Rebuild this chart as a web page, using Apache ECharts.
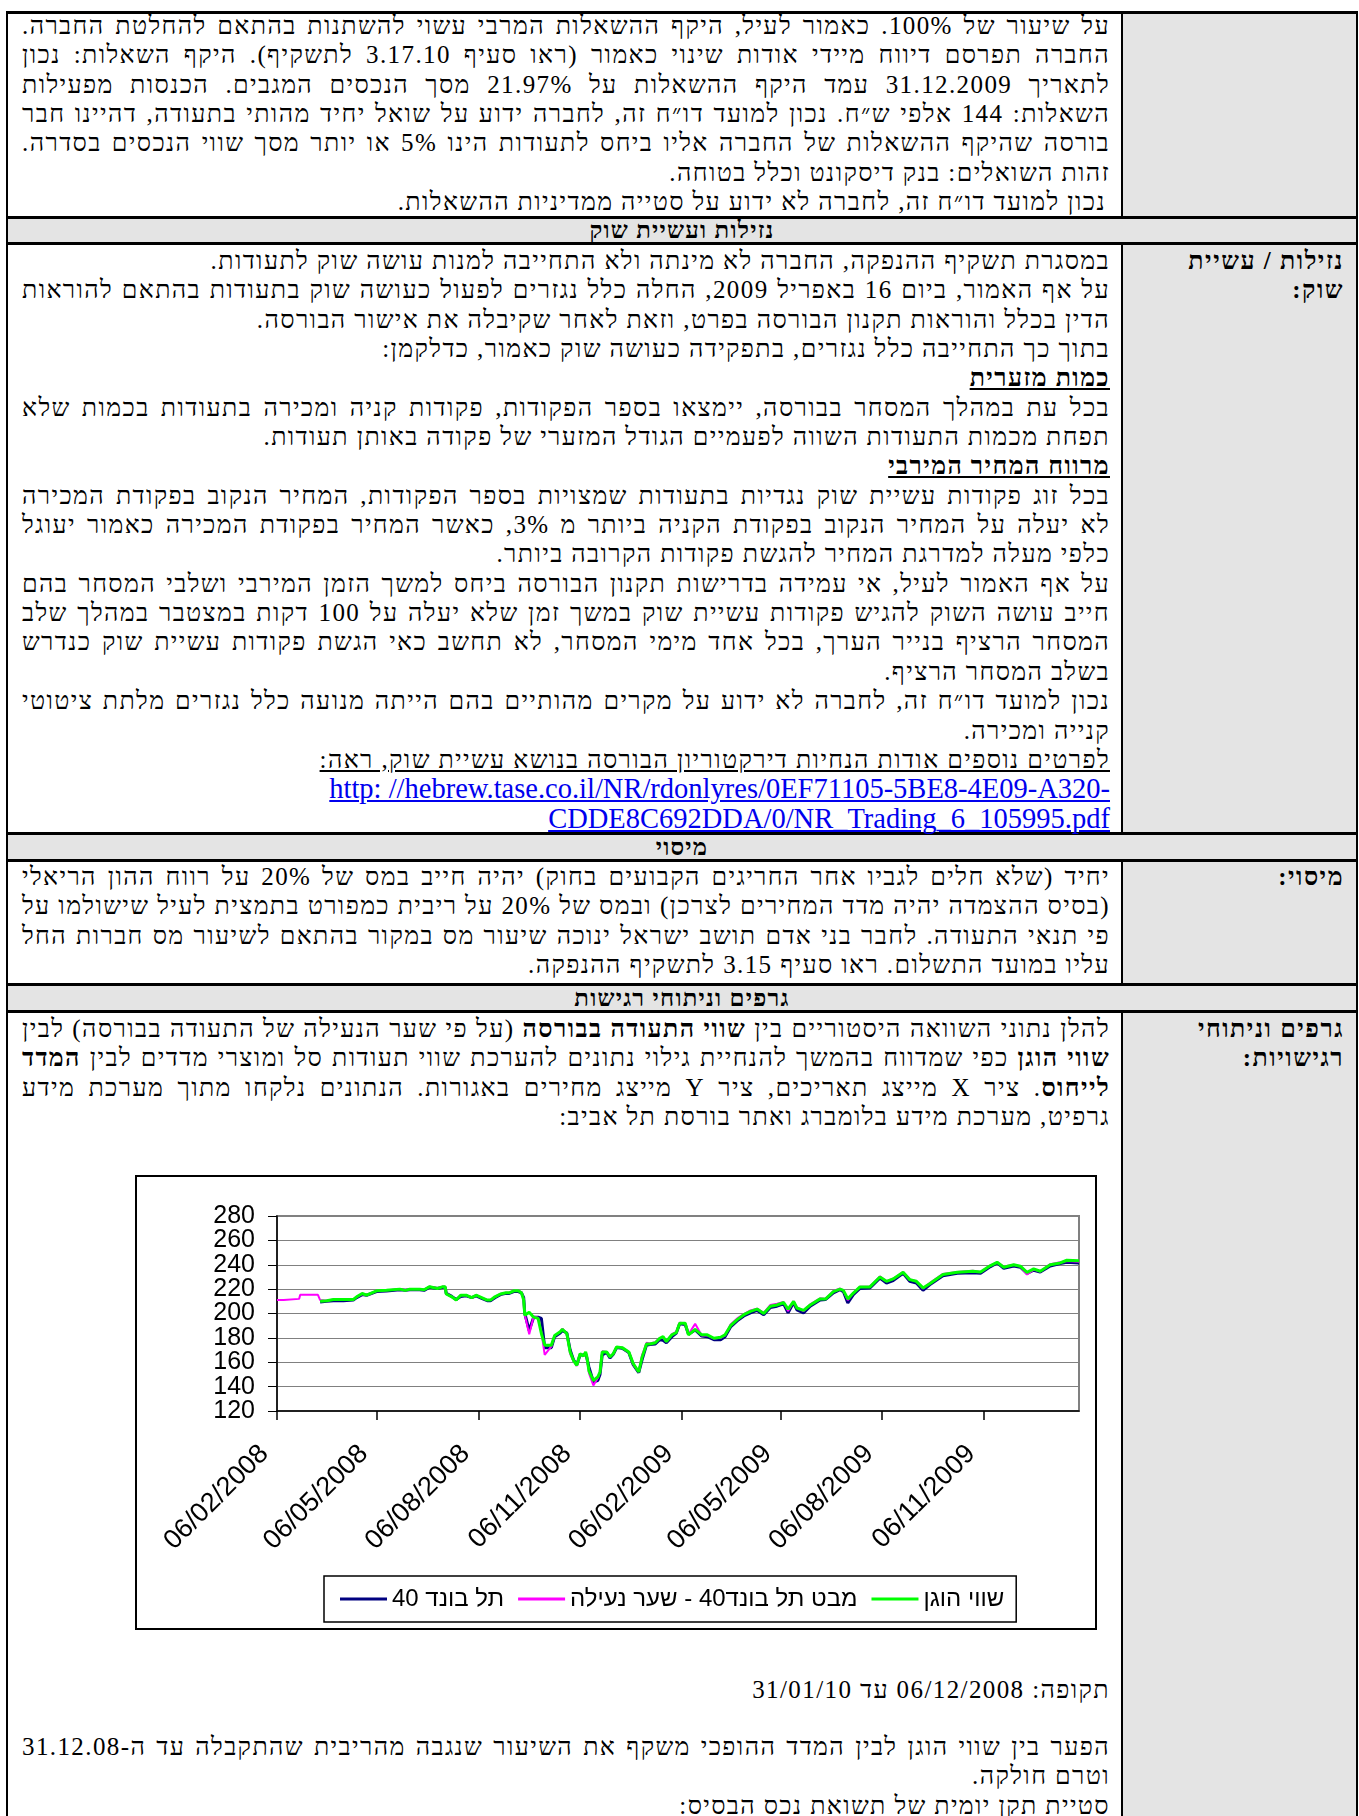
<!DOCTYPE html>
<html lang="he">
<head>
<meta charset="utf-8">
<script src="https://cdn.jsdelivr.net/npm/echarts@6/dist/echarts.min.js"></script>
<style>
html,body{margin:0;padding:0;background:#fff;width:1359px;height:1816px;overflow:hidden;}
body{position:relative;font-family:"Liberation Serif","DejaVu Serif","Times New Roman",serif;font-size:25px;letter-spacing:1.4px;color:#000;}
.hl{position:absolute;left:6px;width:1352px;height:3px;background:#000;}
.vl{position:absolute;width:2px;background:#000;}
.gray{position:absolute;background:#e4e4e4;}
.hdr{position:absolute;left:8px;width:1348px;text-align:center;font-weight:bold;font-size:24px;letter-spacing:1.2px;line-height:26px;direction:rtl;}
.txt{position:absolute;left:22px;width:1088px;direction:rtl;}
.lab{position:absolute;right:15px;width:230px;direction:rtl;font-weight:bold;font-size:25px;letter-spacing:1.5px;}
.ln{height:29.35px;line-height:29.35px;white-space:nowrap;text-align:right;}
.u{text-decoration:underline;}
.link{color:#0000ee;text-decoration:underline;direction:ltr;text-align:right;font-size:28.5px;letter-spacing:0;}
#chart{position:absolute;left:135px;top:1175px;width:962px;height:455px;border:2px solid #000;box-sizing:border-box;background:#fff;direction:rtl;letter-spacing:0;}
</style>
</head>
<body>
<!-- backgrounds -->
<div class="gray" style="left:1123px;top:14px;width:233px;height:203px;"></div>
<div class="gray" style="left:8px;top:219px;width:1348px;height:24px;"></div>
<div class="gray" style="left:1123px;top:245px;width:233px;height:588px;"></div>
<div class="gray" style="left:8px;top:835px;width:1348px;height:25px;"></div>
<div class="gray" style="left:1123px;top:862px;width:233px;height:122px;"></div>
<div class="gray" style="left:8px;top:986px;width:1348px;height:25px;"></div>
<div class="gray" style="left:1123px;top:1013px;width:233px;height:803px;"></div>
<!-- lines -->
<div class="hl" style="top:11px;"></div>
<div class="hl" style="top:216px;"></div>
<div class="hl" style="top:242px;"></div>
<div class="hl" style="top:832px;"></div>
<div class="hl" style="top:859px;"></div>
<div class="hl" style="top:983px;"></div>
<div class="hl" style="top:1010px;"></div>
<div class="vl" style="left:6px;top:11px;height:1805px;"></div>
<div class="vl" style="left:1356px;top:11px;height:1805px;"></div>
<div class="vl" style="left:1121px;top:11px;height:206px;"></div>
<div class="vl" style="left:1121px;top:242px;height:591px;"></div>
<div class="vl" style="left:1121px;top:859px;height:125px;"></div>
<div class="vl" style="left:1121px;top:1010px;height:806px;"></div>

<!-- row 1 -->
<div class="txt" style="top:11px;">
<div class="ln j"><span>על שיעור של 100%. כאמור לעיל, היקף ההשאלות המרבי עשוי להשתנות בהתאם להחלטת החברה.</span></div>
<div class="ln j"><span>החברה תפרסם דיווח מיידי אודות שינוי כאמור (ראו סעיף 3.17.10 לתשקיף). היקף השאלות: נכון</span></div>
<div class="ln j"><span>לתאריך 31.12.2009 עמד היקף ההשאלות על 21.97% מסך הנכסים המגבים. הכנסות מפעילות</span></div>
<div class="ln j"><span>השאלות: 144 אלפי ש״ח. נכון למועד דו״ח זה, לחברה ידוע על שואל יחיד מהותי בתעודה, דהיינו חבר</span></div>
<div class="ln j"><span>בורסה שהיקף ההשאלות של החברה אליו ביחס לתעודות הינו 5% או יותר מסך שווי הנכסים בסדרה.</span></div>
<div class="ln"><span>זהות השואלים: בנק דיסקונט וכלל בטוחה.</span></div>
<div class="ln" style="padding-right:4px;"><span>נכון למועד דו״ח זה, לחברה לא ידוע על סטייה ממדיניות ההשאלות.</span></div>
</div>

<div class="hdr" style="top:217px;">נזילות ועשיית שוק</div>

<!-- row 2 -->
<div class="lab" style="top:246px;">
<div class="ln">נזילות / עשיית</div>
<div class="ln">שוק:</div>
</div>
<div class="txt" style="top:246px;">
<div class="ln"><span>במסגרת תשקיף ההנפקה, החברה לא מינתה ולא התחייבה למנות עושה שוק לתעודות.</span></div>
<div class="ln j"><span>על אף האמור, ביום 16 באפריל 2009, החלה כלל נגזרים לפעול כעושה שוק בתעודות בהתאם להוראות</span></div>
<div class="ln"><span>הדין בכלל והוראות תקנון הבורסה בפרט, וזאת לאחר שקיבלה את אישור הבורסה.</span></div>
<div class="ln"><span>בתוך כך התחייבה כלל נגזרים, בתפקידה כעושה שוק כאמור, כדלקמן:</span></div>
<div class="ln"><span class="u"><b>כמות מזערית</b></span></div>
<div class="ln j"><span>בכל עת במהלך המסחר בבורסה, יימצאו בספר הפקודות, פקודות קניה ומכירה בתעודות בכמות שלא</span></div>
<div class="ln"><span>תפחת מכמות התעודות השווה לפעמיים הגודל המזערי של פקודה באותן תעודות.</span></div>
<div class="ln"><span class="u"><b>מרווח המחיר המירבי</b></span></div>
<div class="ln j"><span>בכל זוג פקודות עשיית שוק נגדיות בתעודות שמצויות בספר הפקודות, המחיר הנקוב בפקודת המכירה</span></div>
<div class="ln j"><span>לא יעלה על המחיר הנקוב בפקודת הקניה ביותר מ 3%, כאשר המחיר בפקודת המכירה כאמור יעוגל</span></div>
<div class="ln"><span>כלפי מעלה למדרגת המחיר להגשת פקודות הקרובה ביותר.</span></div>
<div class="ln j"><span>על אף האמור לעיל, אי עמידה בדרישות תקנון הבורסה ביחס למשך הזמן המירבי ושלבי המסחר בהם</span></div>
<div class="ln j"><span>חייב עושה השוק להגיש פקודות עשיית שוק במשך זמן שלא יעלה על 100 דקות במצטבר במהלך שלב</span></div>
<div class="ln j"><span>המסחר הרציף בנייר הערך, בכל אחד מימי המסחר, לא תחשב כאי הגשת פקודות עשיית שוק כנדרש</span></div>
<div class="ln"><span>בשלב המסחר הרציף.</span></div>
<div class="ln j"><span>נכון למועד דו״ח זה, לחברה לא ידוע על מקרים מהותיים בהם הייתה מנועה כלל נגזרים מלתת ציטוטי</span></div>
<div class="ln"><span>קנייה ומכירה.</span></div>
<div class="ln"><span class="u">לפרטים נוספים אודות הנחיות דירקטוריון הבורסה בנושא עשיית שוק, ראה:</span></div>
<div class="ln link"><span>http: //hebrew.tase.co.il/NR/rdonlyres/0EF71105-5BE8-4E09-A320-</span></div>
<div class="ln link"><span>CDDE8C692DDA/0/NR_Trading_6_105995.pdf</span></div>
</div>

<div class="hdr" style="top:834px;">מיסוי</div>

<!-- row 3 -->
<div class="lab" style="top:862px;"><div class="ln">מיסוי:</div></div>
<div class="txt" style="top:862px;">
<div class="ln j"><span>יחיד (שלא חלים לגביו אחר החריגים הקבועים בחוק) יהיה חייב במס של 20% על רווח ההון הריאלי</span></div>
<div class="ln j"><span>(בסיס ההצמדה יהיה מדד המחירים לצרכן) ובמס של 20% על ריבית כמפורט בתמצית לעיל שישולמו על</span></div>
<div class="ln j"><span>פי תנאי התעודה. לחבר בני אדם תושב ישראל ינוכה שיעור מס במקור בהתאם לשיעור מס חברות החל</span></div>
<div class="ln"><span>עליו במועד התשלום. ראו סעיף 3.15 לתשקיף ההנפקה.</span></div>
</div>

<div class="hdr" style="top:985px;">גרפים וניתוחי רגישות</div>

<!-- row 4 -->
<div class="lab" style="top:1014px;">
<div class="ln">גרפים וניתוחי</div>
<div class="ln">רגישויות:</div>
</div>
<div class="txt" style="top:1014px;">
<div class="ln j"><span>להלן נתוני השוואה היסטוריים בין <b>שווי התעודה בבורסה</b> (על פי שער הנעילה של התעודה בבורסה) לבין</span></div>
<div class="ln j"><span><b>שווי הוגן</b> כפי שמדווח בהמשך להנחיית גילוי נתונים להערכת שווי תעודות סל ומוצרי מדדים לבין <b>המדד</b></span></div>
<div class="ln j"><span><b>לייחוס</b>. ציר X מייצג תאריכים, ציר Y מייצג מחירים באגורות. הנתונים נלקחו מתוך מערכת מידע</span></div>
<div class="ln"><span>גרפיט, מערכת מידע בלומברג ואתר בורסת תל אביב:</span></div>
</div>

<div id="chart"></div>

<div class="txt" style="top:1675px;">
<div class="ln"><span>תקופה: 06/12/2008 עד 31/01/10</span></div>
</div>
<div class="txt" style="top:1732px;">
<div class="ln j"><span>הפער בין שווי הוגן לבין המדד ההופכי משקף את השיעור שנגבה מהריבית שהתקבלה עד ה-31.12.08</span></div>
<div class="ln"><span>וטרם חולקה.</span></div>
<div class="ln"><span>סטיית תקן יומית של תשואת נכס הבסיס:</span></div>
</div>

<script>
// ---------- chart data ----------
const dates = [
'2008-02-06','2008-02-12','2008-02-13','2008-02-26','2008-02-27','2008-03-14','2008-03-16','2008-03-22','2008-03-28','2008-04-06',
'2008-04-15','2008-04-18','2008-04-23','2008-04-27','2008-05-06','2008-05-15','2008-05-27','2008-06-01','2008-06-05','2008-06-14',
'2008-06-18','2008-06-23','2008-06-30','2008-07-05','2008-07-07','2008-07-08','2008-07-13','2008-07-17','2008-07-21','2008-07-26',
'2008-07-31','2008-08-04','2008-08-09','2008-08-14','2008-08-17','2008-08-21','2008-08-26','2008-08-31','2008-09-03','2008-09-07',
'2008-09-11','2008-09-14','2008-09-16','2008-09-17','2008-09-21','2008-09-25','2008-09-29','2008-10-02','2008-10-05','2008-10-11',
'2008-10-14','2008-10-19','2008-10-21','2008-10-25','2008-10-28','2008-10-31','2008-11-03','2008-11-06','2008-11-09','2008-11-11',
'2008-11-12','2008-11-14','2008-11-18','2008-11-22','2008-11-24','2008-11-26','2008-11-30','2008-12-03','2008-12-06','2008-12-09',
'2008-12-14','2008-12-20','2008-12-24','2008-12-29','2009-01-01','2009-01-02','2009-01-05','2009-01-08','2009-01-13','2009-01-17',
'2009-01-20','2009-01-23','2009-01-28','2009-02-01','2009-02-04','2009-02-09','2009-02-12','2009-02-18','2009-02-24','2009-03-01',
'2009-03-07','2009-03-13','2009-03-17','2009-03-22','2009-03-28','2009-04-03','2009-04-09','2009-04-15','2009-04-21','2009-04-27',
'2009-05-03','2009-05-09','2009-05-13','2009-05-18','2009-05-21','2009-05-27','2009-06-02','2009-06-11','2009-06-16','2009-06-23',
'2009-06-29','2009-07-02','2009-07-06','2009-07-11','2009-07-17','2009-07-26','2009-08-04','2009-08-10','2009-08-16','2009-08-25',
'2009-08-31','2009-09-06','2009-09-12','2009-09-18','2009-09-30','2009-10-13','2009-10-27','2009-11-03','2009-11-12','2009-11-18',
'2009-11-24','2009-12-03','2009-12-09','2009-12-15','2009-12-21','2009-12-27','2010-01-05','2010-01-14','2010-01-20','2010-01-31'
];
// שווי הוגן (green)
const fairValue = [
null,null,null,null,null,null,210,210.5,211.5,211.5,
211.5,213.7,216.4,215,218.6,219,220,219,220,220,
219.5,222,220.5,222,222,216,213.7,211,215,215,
213,215,213,211,211,213.7,216,217,217,218.6,
218.6,217,211,198.6,201,197,196,183.6,174,174,
182,185,187,183.6,168.5,161.6,157.5,167,165,168.5,
165,153,145,148,152,168.5,168.5,164.4,167,172.6,
172,168.5,159,152,164,164,175,175,176,179.7,
181,177,182.5,184.4,192,192,182.5,187,182.5,182.5,
179.7,180.5,182.5,190,195,199,201.7,203.6,200,206,
207,209,203.6,210,204.5,202.5,207,212,212,218,
220,219,212,216.8,221.8,221.8,230,226.4,228.4,233.8,
227.8,226.4,221,224.5,232,233.8,234.7,234,239.3,242,
238,240,238.8,233.8,236.6,234.7,240,241.5,243.7,243.2
];
// מבט תל בונד40 - שער נעילה (magenta)
const closePrice = [
211,211,212,212,215.3,215.3,211,210.5,211.5,211.5,
211.5,213.5,216,215,218.6,219,220,219.5,220,220,
219.5,222,221,222,222,216.5,213.7,211,215,215,
213,215,213,211,211,213.7,216,217,217,218.6,
218.6,217.5,212,199,183,197.5,196.5,185,166,173,
181.5,185,187.5,183,167,161,157,167,165,168,
164.5,151,141,147,152,169,168.5,164.4,167,172.6,
172,168,158.5,152,166,168,176,175.5,176.5,180,
180,177,183,185,192.5,192,183,191.5,182,182,
179.5,180,182,191,196,199.5,202.5,204,200.5,207,
208,209.5,202,210,205,202,207.5,212.5,212,218.5,
220.5,219,211,217,222,222,230.5,226.5,228.5,234,
228,226.5,220.5,225,232.5,234,235,234,239.5,242,
238.5,240,238.5,232,236,234.5,240.5,242,243,242.5
];
// תל בונד 40 (navy)
const telBond40 = [
null,null,null,null,null,null,209.5,210,210.5,210.5,
211,213,215.5,215,218,218.5,219.5,219,219.5,219.5,
219,221.5,220.5,221.5,221.5,216.5,214,211.5,214,214.5,
213,214.5,212.5,210.5,210.5,213,215.5,216.5,216.5,218,
218,217,213,200,186,197,197,196,172,172,
181,184,186,184,170,162,158,166,166,167,
164,156,144,145,150,166,168,163.5,166.5,172,
171.5,168,158,151.5,162,165,174,174.5,175,178.5,
178,176,181,184,191.5,191,183,186.5,181.5,181,
178.5,178.5,181,189,194,198,200.5,202.5,199,205,
206,208,200.5,209,203,200.5,206,211,211.5,217,
219.5,218,208.6,215.5,220.5,221,229,225,227,233,
226.5,225,219,223.5,231,233,233.5,233,238.5,241.5,
237,239,238,233,235.5,234,239,241,242,241.5
];
const axisStart = '2008-02-06';
const axisEnd = '2010-01-31';
const xTickDates = ['2008-02-06','2008-05-06','2008-08-06','2008-11-06','2009-02-06','2009-05-06','2009-08-06','2009-11-06'];
const yLabelsA = [120,160,200,240,280];
const yLabelsB = [140,180,220,260];
const seriesNames = ['תל בונד 40','מבט תל בונד40 - שער נעילה','שווי הוגן'];

// ---------- helpers ----------
function utc(s){const p=s.split('-').map(Number);return Date.UTC(p[0],p[1]-1,p[2]);}
function dayNum(s){return Math.round((utc(s)-utc(axisStart))/86400000);}
function fmt(s){const p=s.split('-');return p[2]+'/'+p[1]+'/'+p[0];}
const tickDays = xTickDates.map(dayNum);
const tickLabelMap = {};
xTickDates.forEach(d=>{tickLabelMap[dayNum(d)]=fmt(d);});
function pairs(arr){return dates.map((d,i)=>[dayNum(d),arr[i]]);}

function justify(){
  document.querySelectorAll('.j').forEach(div=>{
    const span=div.firstElementChild;
    div.style.wordSpacing='0px';
    const W=div.clientWidth - (parseFloat(getComputedStyle(div).paddingRight)||0);
    const w=span.getBoundingClientRect().width;
    const n=span.textContent.trim().replace(/\s+/g,' ').split(' ').length-1;
    if(n>0) div.style.wordSpacing=((W-w)/n)+'px';
  });
}

function drawChart(){
  const chart = echarts.init(document.getElementById('chart'), null, {renderer:'canvas'});
  const font = 'Liberation Sans, Arial, sans-serif';
  const yLabelStyle = {show:true, margin:22, fontSize:25, fontFamily:font, color:'#000', showMinLabel:true, showMaxLabel:true, hideOverlap:false};
  chart.setOption({
    animation:false,
    backgroundColor:'#fff',
    grid:{left:140, top:39, width:802, height:195, show:true, borderColor:'#808080', borderWidth:2, backgroundColor:'#fff', containLabel:false},
    legend:{
      left:187, top:399, orient:'horizontal',
      data:seriesNames,
      icon:'rect', itemWidth:47, itemHeight:3, itemGap:14,
      padding:[11,12,11,16],
      borderColor:'#000', borderWidth:1.5, backgroundColor:'#fff',
      textStyle:{fontFamily:font, fontSize:24, color:'#000'}
    },
    xAxis:{
      type:'value', min:0, max:dayNum(axisEnd),
      axisLine:{show:true, lineStyle:{color:'#000', width:1.5}},
      axisTick:{show:true, inside:false, length:9, customValues:tickDays, lineStyle:{color:'#000', width:1.5}},
      axisLabel:{show:true, customValues:tickDays, rotate:45, margin:26, padding:[0,18,0,0], fontSize:27, fontFamily:font, color:'#000',
        formatter:(v)=>tickLabelMap[Math.round(v)]||''},
      splitLine:{show:false}
    },
    yAxis:[{
      type:'value', min:120, max:280, interval:20, position:'left',
      axisLine:{show:true, lineStyle:{color:'#000', width:1.5}},
      axisTick:{show:true, inside:false, length:9, lineStyle:{color:'#000', width:1}},
      axisLabel:Object.assign({customValues:yLabelsA}, yLabelStyle),
      splitLine:{show:true, lineStyle:{color:'#808080', width:1}}
    },{
      type:'value', min:120, max:280, interval:20, position:'left', offset:0,
      axisLine:{show:false}, axisTick:{show:false}, splitLine:{show:false},
      axisLabel:Object.assign({customValues:yLabelsB}, yLabelStyle)
    }],
    series:[
      {name:seriesNames[0], type:'line', yAxisIndex:0, data:pairs(telBond40), showSymbol:false, symbol:'none', color:'#000080', lineStyle:{color:'#000080', width:3}, z:2},
      {name:seriesNames[1], type:'line', yAxisIndex:0, data:pairs(closePrice), showSymbol:false, symbol:'none', color:'#ff00ff', lineStyle:{color:'#ff00ff', width:2}, z:3},
      {name:seriesNames[2], type:'line', yAxisIndex:0, data:pairs(fairValue), showSymbol:false, symbol:'none', color:'#00ff00', lineStyle:{color:'#00ff00', width:3}, z:4}
    ]
  });
}

justify();
drawChart();
if(document.fonts && document.fonts.ready){document.fonts.ready.then(justify);}
</script>
</body>
</html>
